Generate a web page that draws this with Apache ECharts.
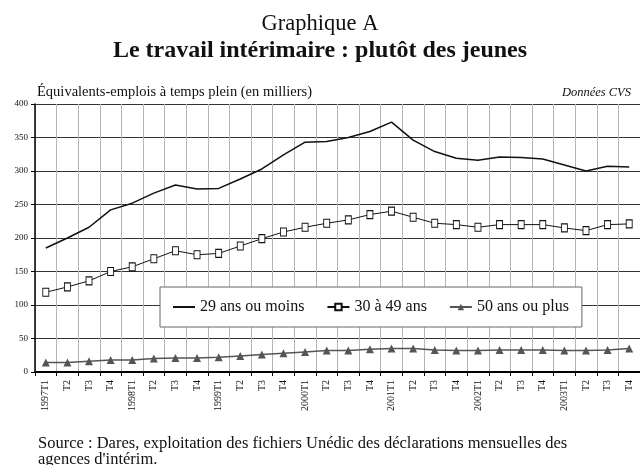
<!DOCTYPE html>
<html>
<head>
<meta charset="utf-8">
<script src="https://cdn.jsdelivr.net/npm/echarts@6/dist/echarts.min.js"></script>
<style>
  html, body { margin: 0; padding: 0; background: #fff; }
  #chart { width: 640px; height: 465px; }
</style>
</head>
<body>
<div id="chart"></div>
<script>
  // trimestres 1997T1 .. 2003T4
  const quarters = [
    '1997T1','T2','T3','T4','1998T1','T2','T3','T4','1999T1','T2','T3','T4',
    '2000T1','T2','T3','T4','2001T1','T2','T3','T4','2002T1','T2','T3','T4',
    '2003T1','T2','T3','T4'
  ];
  const yTicks = [0, 50, 100, 150, 200, 250, 300, 350, 400];

  const moins29 = [185, 200, 216, 242, 252, 267, 279, 273, 274, 288, 303, 324,
    343, 344, 350, 359, 373, 346, 329, 319, 316, 321, 320, 318, 309, 300, 307, 306];
  const de30a49 = [119, 127, 136, 150, 157, 169, 181, 175, 177, 188, 199, 209,
    216, 222, 227, 235, 240, 231, 222, 220, 216, 220, 220, 220, 215, 211, 220, 221];
  const plus50 = [14, 14, 16, 18, 18, 20, 21, 21, 22, 24, 26, 28,
    30, 32, 32, 34, 35, 35, 33, 32, 32, 33, 33, 33, 32, 32, 33, 35];

  const serif = 'Liberation Serif';
  const chart = echarts.init(document.getElementById('chart'));

  chart.setOption({
    animation: false,
    textStyle: { fontFamily: serif, color: '#111' },
    title: [
      { text: 'Graphique A', left: 'center', top: 8,
        textStyle: { fontFamily: serif, fontSize: 22.5, fontWeight: 'normal', color: '#111' } },
      { text: 'Le travail intérimaire : plutôt des jeunes', left: 'center', top: 34,
        textStyle: { fontFamily: serif, fontSize: 24, fontWeight: 'bold', color: '#111' } },
      { text: 'Équivalents-emplois à temps plein (en milliers)', left: 32, top: 80,
        textStyle: { fontFamily: serif, fontSize: 14.5, fontWeight: 'normal', color: '#111' } },
      { text: 'Données CVS', right: 4, top: 81,
        textStyle: { fontFamily: serif, fontSize: 12.5, fontWeight: 'normal', fontStyle: 'italic', color: '#111' } },
      { text: 'Source : Dares, exploitation des fichiers Unédic des déclarations mensuelles des\nagences d\'intérim.',
        left: 33, top: 431,
        textStyle: { fontFamily: serif, fontSize: 16.5, fontWeight: 'normal', lineHeight: 15.5, color: '#111' } }
    ],
    grid: { left: 35, right: -2, top: 104, bottom: 93 },
    legend: {
      left: 160, top: 287,
      padding: [12, 13, 12, 12],
      itemGap: 22,
      itemWidth: 22, itemHeight: 8,
      backgroundColor: '#fff',
      borderColor: '#666', borderWidth: 1,
      textStyle: { fontFamily: serif, fontSize: 16, color: '#111' },
      data: [
        { name: '29 ans ou moins', itemStyle: { opacity: 0 } },
        '30 à 49 ans',
        '50 ans ou plus'
      ]
    },
    xAxis: {
      type: 'category',
      data: quarters,
      boundaryGap: true,
      axisLine: { lineStyle: { color: '#000', width: 2 } },
      axisTick: { show: true, length: 4, lineStyle: { color: '#000' } },
      axisLabel: { rotate: 90, fontSize: 10, margin: 8, interval: 0, color: '#111', fontFamily: serif },
      splitLine: { show: true, lineStyle: { color: '#b4b4b4', width: 1 } }
    },
    yAxis: {
      type: 'value',
      min: yTicks[0], max: yTicks[yTicks.length - 1], interval: 50,
      axisLine: { show: true, lineStyle: { color: '#000', width: 1.5 } },
      axisTick: { show: true, length: 4, lineStyle: { color: '#000' } },
      axisLabel: { fontSize: 9, margin: 7, color: '#111', fontFamily: serif },
      splitLine: { lineStyle: { color: '#333', width: 1 } }
    },
    series: [
      {
        name: '29 ans ou moins', type: 'line', data: moins29,
        symbol: 'none',
        lineStyle: { color: '#111', width: 1.5 },
        itemStyle: { color: '#111' }
      },
      {
        name: '30 à 49 ans', type: 'line', data: de30a49,
        symbol: 'rect', symbolSize: [6, 8],
        lineStyle: { color: '#111', width: 1 },
        itemStyle: { color: '#fff', borderColor: '#111', borderWidth: 1 }
      },
      {
        name: '50 ans ou plus', type: 'line', data: plus50,
        symbol: 'triangle', symbolSize: 8,
        lineStyle: { color: '#555', width: 1.5 },
        itemStyle: { color: '#555' }
      }
    ]
  });
</script>
</body>
</html>
